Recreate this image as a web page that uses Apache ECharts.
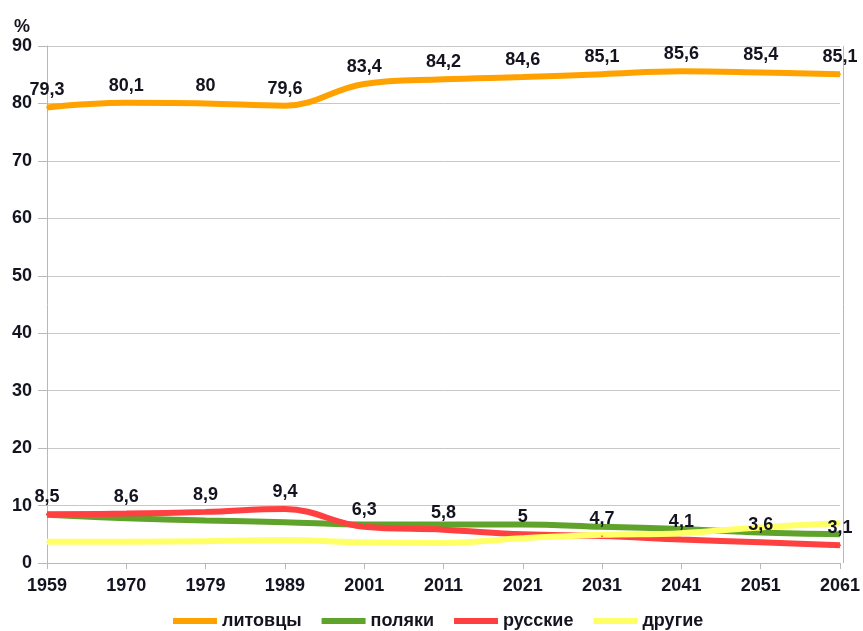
<!DOCTYPE html>
<html><head><meta charset="utf-8">
<script src="https://cdn.jsdelivr.net/npm/echarts@6/dist/echarts.min.js"></script>
<style>html,body{margin:0;padding:0;background:#fff}#c{width:863px;height:631px}</style>
</head><body><div id="c"></div>
<script>
const years = ['1959','1970','1979','1989','2001','2011','2021','2031','2041','2051','2061'];
const lithuanians = [79.3, 80.1, 80, 79.6, 83.4, 84.2, 84.6, 85.1, 85.6, 85.4, 85.1];
const poles = [8.4, 7.8, 7.4, 7.1, 6.7, 6.7, 6.7, 6.3, 5.9, 5.3, 5.0];
const russians = [8.5, 8.6, 8.9, 9.4, 6.3, 5.8, 5, 4.7, 4.1, 3.6, 3.1];
const others = [3.7, 3.7, 3.8, 4.0, 3.6, 3.5, 4.3, 4.9, 5.2, 6.2, 6.9];
const seriesNames = ['литовцы', 'поляки', 'русские', 'другие'];
const colors = ['#ffa200', '#5fa32a', '#ff4040', '#ffff66'];

const font = 'Liberation Sans, Arial, sans-serif';
const txt = '#141420';
const lbl = {show: true, position: 'top', distance: 7, fontFamily: font, fontSize: 18, fontWeight: 'bold', color: txt,
  formatter: p => String(p.value).replace('.', ',')};

function mk(name, data, color, label) {
  return {name, type: 'line', data, smooth: 0.4, showSymbol: true, symbol: 'circle', symbolSize: 2, color,
    itemStyle: {color}, lineStyle: {width: 6, color}, label: label ? lbl : {show: false},
    labelLayout: {hideOverlap: false}};
}

const chart = echarts.init(document.getElementById('c'), null, {renderer: 'canvas'});
chart.setOption({
  animation: false,
  grid: {left: 47, right: 20, top: 46, bottom: 68, containLabel: false},
  xAxis: {type: 'category', data: years, boundaryGap: false,
    axisLine: {lineStyle: {color: '#b8b8b8', width: 1}},
    axisTick: {show: true, length: 6, lineStyle: {color: '#b8b8b8'}},
    axisLabel: {fontFamily: font, fontSize: 18, fontWeight: 'bold', color: txt, margin: 14},
    splitLine: {show: false}},
  yAxis: {type: 'value', min: 0, max: 90, interval: 10, name: '%',
    nameLocation: 'end', nameGap: 10,
    nameTextStyle: {fontFamily: font, fontSize: 18, fontWeight: 'bold', color: txt, align: 'right', padding: [0, 17, 0, 0]},
    axisLine: {show: true, lineStyle: {color: '#b8b8b8'}},
    axisTick: {show: true, length: 9, lineStyle: {color: '#b8b8b8'}},
    axisLabel: {fontFamily: font, fontSize: 18, fontWeight: 'bold', color: txt, margin: 15},
    splitLine: {lineStyle: {color: '#c8c8c8', width: 1}}},
  legend: {top: 612, left: 173, padding: 0, icon: 'rect', itemWidth: 44, itemHeight: 6, itemGap: 20,
    textStyle: {fontFamily: font, fontSize: 18, fontWeight: 'bold', color: txt},
    data: seriesNames},
  graphic: [{type: 'line', shape: {x1: 843.5, y1: 46, x2: 843.5, y2: 563}, style: {stroke: '#b8b8b8', lineWidth: 1}}],
  series: [
    mk(seriesNames[0], lithuanians, colors[0], true),
    mk(seriesNames[1], poles, colors[1], false),
    mk(seriesNames[2], russians, colors[2], true),
    mk(seriesNames[3], others, colors[3], false)
  ]
});
</script></body></html>
